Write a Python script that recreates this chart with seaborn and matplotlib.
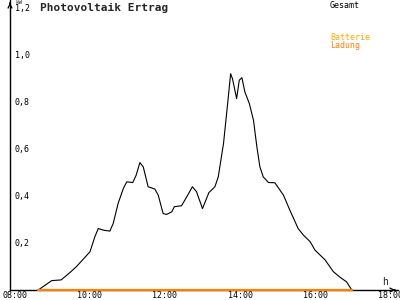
import matplotlib
matplotlib.use("Agg")
import matplotlib.pyplot as plt
import seaborn as sns
import pandas as pd
import numpy as np

# Data (hours, kW)
hours = [8.62, 8.98, 9.23, 9.47, 9.64, 9.87, 10.0, 10.13, 10.22, 10.36, 10.53, 10.62,
         10.75, 10.89, 10.98, 11.14, 11.23, 11.33, 11.42, 11.55, 11.73, 11.82, 11.95,
         12.04, 12.18, 12.25, 12.44, 12.58, 12.73, 12.84, 13.0, 13.09, 13.17, 13.33,
         13.42, 13.56, 13.67, 13.75, 13.8, 13.91, 13.98, 14.05, 14.13, 14.25, 14.36,
         14.45, 14.53, 14.62, 14.76, 14.93, 15.16, 15.33, 15.55, 15.69, 15.87, 16.0,
         16.27, 16.49, 16.67, 16.84, 16.98]
gesamt = [0.0, 0.04, 0.043, 0.075, 0.1, 0.14, 0.163, 0.227, 0.262, 0.255, 0.251, 0.284,
          0.369, 0.433, 0.461, 0.458, 0.489, 0.543, 0.525, 0.44, 0.43, 0.404, 0.326,
          0.322, 0.333, 0.355, 0.359, 0.397, 0.44, 0.419, 0.347, 0.383, 0.415, 0.44,
          0.482, 0.624, 0.794, 0.922, 0.9, 0.816, 0.894, 0.905, 0.844, 0.794, 0.723,
          0.61, 0.525, 0.482, 0.458, 0.457, 0.404, 0.34, 0.262, 0.234, 0.206, 0.17,
          0.128, 0.078, 0.054, 0.035, 0.0]
batterie_ladung = [0.0] * len(hours)

x_ticks = [8, 10, 12, 14, 16, 18]
x_labels = ["08:00", "10:00", "12:00", "14:00", "16:00", "18:00"]
y_ticks = [0.2, 0.4, 0.6, 0.8, 1.0, 1.2]
y_labels = ["0,2", "0,4", "0,6", "0,8", "1,0", "1,2"]

sns.set_style("white")
plt.rcParams['font.family'] = ['DejaVu Sans Mono', 'DejaVu Sans']

fig = plt.figure(figsize=(4, 3), dpi=100)
ax = fig.add_axes([10/400, 10/300, 388/400, 290/300])

df = pd.DataFrame({"h": hours, "Gesamt": gesamt, "Ladung": batterie_ladung})
sns.lineplot(data=df, x="h", y="Gesamt", ax=ax, color="black", linewidth=0.8, zorder=3)
sns.lineplot(data=df, x="h", y="Ladung", ax=ax, color="#FF8000", linewidth=1.6, zorder=4,
             clip_on=False)

ax.set_xlim(7.867, 18.213)
ax.set_ylim(0, 1.236)
ax.set_xlabel("")
ax.set_ylabel("")

for s in ["top", "right"]:
    ax.spines[s].set_visible(False)
for s in ["left", "bottom"]:
    ax.spines[s].set_color("black")
    ax.spines[s].set_linewidth(1.0)

ax.set_xticks(x_ticks)
ax.set_xticklabels(x_labels)
ax.set_yticks(y_ticks)
ax.set_yticklabels(y_labels)
ax.tick_params(axis="both", direction="inout", length=7, width=0.9, colors="black",
               labelsize=6)
ax.tick_params(axis="x", pad=-2.5)
ax.tick_params(axis="y", pad=-7)
for lbl in ax.get_yticklabels():
    lbl.set_horizontalalignment("left")
    lbl.set_verticalalignment("center")

# axis arrows
ax.annotate("", xy=(1.0, 0), xycoords="axes fraction", xytext=(0.985, 0),
            arrowprops=dict(arrowstyle="->", color="black", lw=0.9, mutation_scale=7),
            annotation_clip=False)
ax.annotate("", xy=(0, 1.0), xycoords="axes fraction", xytext=(0, 0.98),
            arrowprops=dict(arrowstyle="->", color="black", lw=0.9, mutation_scale=7),
            annotation_clip=False)

fig.text(15/400, 1 - 2.5/300, "kW", fontsize=4.2, ha="left", va="center")
fig.text(385/400, 1 - 282/300, "h", fontsize=7, ha="center", va="center")
fig.text(40/400, 1 - 8/300, "Photovoltaik Ertrag", fontsize=8, fontweight="bold",
         ha="left", va="center")
fig.text(330/400, 1 - 6/300, "Gesamt", fontsize=6, color="black", ha="left", va="center")
fig.text(330/400, 1 - 37/300, "Batterie", fontsize=6, color="#FFAA00", ha="left", va="center")
fig.text(330/400, 1 - 45/300, "Ladung", fontsize=6, color="#FF8000", ha="left", va="center")

fig.savefig("out.png", dpi=100)
